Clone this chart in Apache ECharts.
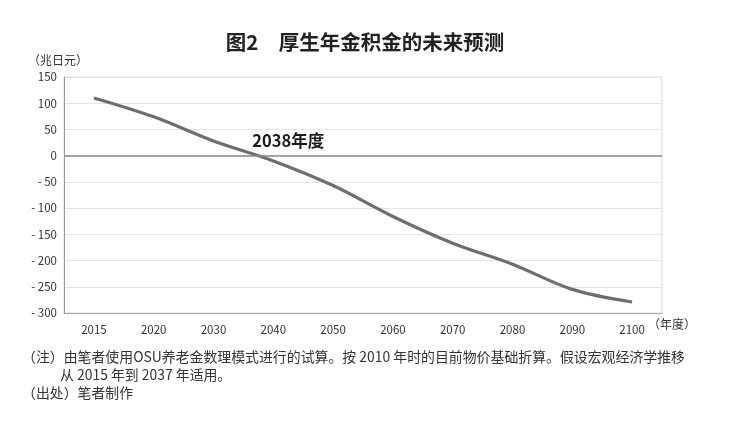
<!DOCTYPE html>
<html>
<head>
<meta charset="utf-8">
<script src="https://cdn.jsdelivr.net/npm/echarts@6/dist/echarts.min.js"></script>
<style>
  html, body { margin: 0; padding: 0; background: #fff; }
  #chart { width: 730px; height: 427px; }
</style>
</head>
<body>
<div id="chart"></div>
<script>
// Fiscal years on the horizontal axis (evenly spaced categories)
const years = ['2015', '2020', '2030', '2040', '2050', '2060', '2070', '2080', '2090', '2100'];
// Projected pension reserve, trillion yen
const reserve = [110, 74, 28, -10, -57, -116, -167, -207, -255, -279];
// Vertical axis range
const yMin = -300, yMax = 150, yStep = 50;
// Year when the reserve hits zero
const depletionLabel = '2038年度';
const depletionPos = 2.8; // between 2030 (index 2) and 2040 (index 3)

const FONT = '"Noto Sans CJK SC", "Noto Sans", sans-serif';
const chart = echarts.init(document.getElementById('chart'));

chart.setOption({
  backgroundColor: '#fff',
  animation: false,
  textStyle: { fontFamily: FONT },
  title: {
    text: '图2　厚生年金积金的未来预测',
    left: 'center',
    top: 27,
    textStyle: { fontSize: 20.5, fontWeight: 'bold', color: '#222', fontFamily: FONT }
  },
  grid: {
    left: 64, right: 68, top: 77, bottom: 114,
    show: true, borderColor: '#dcdcdc', borderWidth: 1
  },
  xAxis: {
    type: 'category',
    data: years,
    boundaryGap: true,
    axisLine: { onZero: false, lineStyle: { color: '#aaa' } },
    axisTick: { show: false },
    axisLabel: { color: '#333', fontSize: 11.5, margin: 11 },
    splitLine: { show: false }
  },
  yAxis: {
    type: 'value',
    min: yMin, max: yMax, interval: yStep,
    axisLine: { show: true, lineStyle: { color: '#999' } },
    axisTick: { show: false },
    axisLabel: {
      color: '#333', fontSize: 11.5, margin: 7,
      formatter: v => v < 0 ? '- ' + Math.abs(v) : String(v)
    },
    splitLine: { lineStyle: { color: '#e4e4e4', width: 1 } }
  },
  series: [{
    type: 'line',
    data: reserve,
    smooth: 0.35,
    symbol: 'none',
    lineStyle: { color: '#6e6e6e', width: 3.2 },
    markLine: {
      silent: true,
      symbol: 'none',
      label: { show: false },
      lineStyle: { color: '#8a8a8a', width: 1.5, type: 'solid' },
      data: [{ yAxis: 0 }]
    },
    z: 3
  }],
  graphic: []
});

// Annotation for the depletion year, placed through the axes
const p0 = chart.convertToPixel({ xAxisIndex: 0, yAxisIndex: 0 }, [2, 0]);
const p1 = chart.convertToPixel({ xAxisIndex: 0, yAxisIndex: 0 }, [3, 0]);
const ax = p0[0] + (p1[0] - p0[0]) * (depletionPos - 2);
const ay = p0[1];

chart.setOption({
  graphic: [
    {
      type: 'text', left: ax - 9, top: ay - 23,
      style: { text: depletionLabel, font: 'bold 16.5px ' + FONT, fill: '#1a1a1a' }
    },
    {
      type: 'text', left: 28, top: 54,
      style: { text: '（兆日元）', font: '12px ' + FONT, fill: '#333' }
    },
    {
      type: 'text', left: 648, top: 318,
      style: { text: '（年度）', font: '12px ' + FONT, fill: '#333' }
    },
    {
      type: 'text', left: 22, top: 350,
      style: { text: '（注）由笔者使用OSU养老金数理模式进行的试算。按 2010 年时的目前物价基础折算。假设宏观经济学推移', font: '13.9px ' + FONT, fill: '#333' }
    },
    {
      type: 'text', left: 60, top: 368,
      style: { text: '从 2015 年到 2037 年适用。', font: '13.9px ' + FONT, fill: '#333' }
    },
    {
      type: 'text', left: 22, top: 386,
      style: { text: '（出处）笔者制作', font: '13.9px ' + FONT, fill: '#333' }
    }
  ]
});
</script>
</body>
</html>
